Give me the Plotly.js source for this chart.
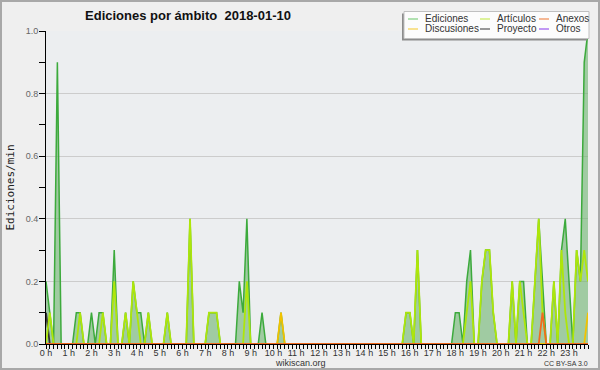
<!DOCTYPE html>
<html><head><meta charset="utf-8">
<script src="https://cdn.plot.ly/plotly-3.0.1.min.js"></script>
<style>html,body{margin:0;padding:0;background:#efefef}#c{width:600px;height:370px}</style>
</head><body><div id="c"></div><script>
// x: 10-minute slots of 2018-01-10 (index 0 = 00:00, 143 = 23:50)
const hourLabels = ['0 h','1 h','2 h','3 h','4 h','5 h','6 h','7 h','8 h','9 h','10 h','11 h',
  '12 h','13 h','14 h','15 h','16 h','17 h','18 h','19 h','20 h','21 h','22 h','23 h'];
const slotMinutes = Array.from({length:144},(_,i)=>i*10);

// edits per minute, one row = 2 hours (12 slots of 10 min)
const ediciones = [
 0.2,0.1,0,0.9,0,0, 0,0,0.1,0.1,0,0,
 0.1,0,0.1,0.1,0,0, 0.3,0,0,0.1,0,0.2,
 0.1,0.1,0,0.1,0,0, 0,0,0.1,0,0,0,
 0,0,0.4,0,0,0, 0,0.1,0.1,0.1,0,0,
 0,0,0,0.2,0.1,0.4, 0,0,0,0.1,0,0,
 0,0,0.1,0,0,0, 0,0,0,0,0,0,
 0,0,0,0,0,0, 0,0,0,0,0,0,
 0,0,0,0,0,0, 0,0,0,0,0,0.1,
 0.1,0,0.3,0,0,0, 0,0,0,0,0,0,
 0.1,0.1,0,0.2,0.3,0, 0,0.2,0.3,0.3,0.1,0,
 0,0,0,0.2,0,0.2, 0.2,0,0,0.2,0.4,0.2,
 0,0,0.2,0,0.3,0.4, 0.2,0,0.3,0.2,0.9,1.0];
const articulos = [
 0,0.1,0,0,0,0, 0,0,0,0.1,0,0,
 0,0,0,0.1,0,0, 0.2,0,0,0.1,0,0.2,
 0.1,0,0,0.1,0,0, 0,0,0.1,0,0,0,
 0,0,0.4,0,0,0, 0,0.1,0.1,0.1,0,0,
 0,0,0,0,0,0.2, 0,0,0,0,0,0,
 0,0,0,0,0,0, 0,0,0,0,0,0,
 0,0,0,0,0,0, 0,0,0,0,0,0,
 0,0,0,0,0,0, 0,0,0,0,0,0.1,
 0.1,0,0.3,0,0,0, 0,0,0,0,0,0,
 0,0,0,0.1,0.2,0, 0,0.2,0.3,0.3,0.1,0,
 0,0,0,0.2,0,0.2, 0.1,0,0,0.2,0.4,0.1,
 0,0,0.2,0,0.3,0.1, 0,0,0.3,0.2,0.3,0.2];
const anexos = [
 0,0,0,0,0,0, 0,0,0,0,0,0,
 0,0,0,0,0,0, 0,0,0,0,0,0,
 0,0,0,0,0,0, 0,0,0,0,0,0,
 0,0,0,0,0,0, 0,0,0,0,0,0,
 0,0,0,0,0,0, 0,0,0,0,0,0,
 0,0,0,0,0,0, 0,0,0,0,0,0,
 0,0,0,0,0,0, 0,0,0,0,0,0,
 0,0,0,0,0,0, 0,0,0,0,0,0,
 0,0,0,0,0,0, 0,0,0,0,0,0,
 0,0,0,0,0,0, 0,0,0,0,0,0,
 0,0,0,0,0,0, 0,0,0,0,0,0.1,
 0,0,0,0,0,0, 0,0,0,0,0,0];
const discusiones = [
 0,0,0,0,0,0, 0,0,0,0,0,0,
 0,0,0,0,0,0, 0,0,0,0,0,0,
 0,0,0,0,0,0, 0,0,0,0,0,0,
 0,0,0,0,0,0, 0,0,0,0,0,0,
 0,0,0,0,0,0, 0,0,0,0,0,0,
 0,0,0.1,0,0,0, 0,0,0,0,0,0,
 0,0,0,0,0,0, 0,0,0,0,0,0,
 0,0,0,0,0,0, 0,0,0,0,0,0,
 0,0,0,0,0,0, 0,0,0,0,0,0,
 0,0,0,0,0,0, 0,0,0,0,0,0,
 0,0,0,0,0,0, 0,0,0,0,0,0,
 0,0,0,0,0,0, 0,0,0,0,0,0.1];
const proyecto = [
 0.1,0,0,0,0,0, 0,0,0,0,0,0,
 0,0,0,0,0,0, 0,0,0,0,0,0,
 0,0,0,0,0,0, 0,0,0,0,0,0,
 0,0,0,0,0,0, 0,0,0,0,0,0,
 0,0,0,0,0,0, 0,0,0,0,0,0,
 0,0,0,0,0,0, 0,0,0,0,0,0,
 0,0,0,0,0,0, 0,0,0,0,0,0,
 0,0,0,0,0,0, 0,0,0,0,0,0,
 0,0,0,0,0,0, 0,0,0,0,0,0,
 0,0,0,0,0,0, 0,0,0,0,0,0,
 0,0,0,0,0,0, 0,0,0,0,0,0,
 0,0,0,0,0,0, 0,0,0,0,0,0];
const otros = [
 0,0,0,0,0,0, 0,0,0,0,0,0,
 0,0,0,0,0,0, 0,0,0,0,0,0,
 0,0,0,0,0,0, 0,0,0,0,0,0,
 0,0,0,0,0,0, 0,0,0,0,0,0,
 0,0,0,0,0,0, 0,0,0,0,0,0,
 0,0,0,0,0,0, 0,0,0,0,0,0,
 0,0,0,0,0,0, 0,0,0,0,0,0,
 0,0,0,0,0,0, 0,0,0,0,0,0,
 0,0,0,0,0,0, 0,0,0,0,0,0,
 0,0,0,0,0,0, 0,0,0,0,0,0,
 0,0,0,0,0,0, 0,0,0,0,0,0,
 0,0,0,0,0,0, 0,0,0,0,0,0];

const seriesNames  = ['Ediciones','Artículos','Anexos','Discusiones','Proyecto','Otros'];
const seriesColors = ['#3caa3c','#aee60a','#f06a1e','#f2c200','#333333','#8a3ce6'];
const legendColors = ['#7fcf7f','#c8ec5a','#f08a50','#f5d04a','#555555','#9a55ee'];
const seriesData   = [ediciones, articulos, anexos, discusiones, proyecto, otros];
const drawOrder = [0,5,4,1,3,2];

const W=600,H=370,M={l:46,r:12,t:31,b:26};
const PW=W-M.l-M.r, PH=H-M.t-M.b;
const px=x=>(x-M.l)/PW, py=y=>(H-M.b-y)/PH;
const SANS='Liberation Sans, Arial, sans-serif';

const traces = drawOrder.map(k=>{
  const t={x:slotMinutes,y:seriesData[k],type:'scatter',mode:'lines',name:seriesNames[k],
    line:{color:seriesColors[k],width:k===0?1.5:1.8},showlegend:false,hoverinfo:'skip'};
  if(k===0){t.fill='tozeroy';t.fillcolor='rgba(110,180,110,0.6)';}
  return t;
});

const shapes=[
  {type:'rect',xref:'paper',yref:'paper',x0:px(1),x1:px(599),y0:py(369),y1:py(1),line:{color:'#a8a8a8',width:2},layer:'above'},
  {type:'rect',xref:'paper',yref:'paper',x0:px(402),x1:px(587),y0:py(40.5),y1:py(13.5),fillcolor:'#8c8c8c',line:{width:0},layer:'above'},
  {type:'rect',xref:'paper',yref:'paper',x0:px(404),x1:px(589),y0:py(38.5),y1:py(11.5),fillcolor:'#fcfcfc',line:{color:'#c0c0c0',width:1},layer:'above'}
];
const annotations=[];
const colX=[424,496,555], rowY=[19,29];
seriesNames.forEach((n,k)=>{
  const c=k%3, r=Math.floor(k/3);
  shapes.push({type:'line',xref:'paper',yref:'paper',x0:px(colX[c]-16),x1:px(colX[c]-6),y0:py(rowY[r]),y1:py(rowY[r]),line:{color:legendColors[k],width:1.2},layer:'above'});
  annotations.push({xref:'paper',yref:'paper',x:px(colX[c]),y:py(rowY[r]),text:n,showarrow:false,xanchor:'left',yanchor:'middle',borderpad:0,font:{family:SANS,size:10,color:'#333'}});
});
annotations.push({xref:'paper',yref:'paper',x:px(300),y:py(363),text:'wikiscan.org',showarrow:false,xanchor:'center',yanchor:'middle',borderpad:0,font:{family:SANS,size:9,color:'#333'}});
annotations.push({xref:'paper',yref:'paper',x:px(589),y:py(363),text:'CC BY-SA 3.0',showarrow:false,xanchor:'right',yanchor:'middle',borderpad:0,font:{family:SANS,size:7,color:'#333'}});

const layout={
  width:W,height:H,margin:M,paper_bgcolor:'#efefef',plot_bgcolor:'#eceef0',
  font:{family:SANS,color:'#333'},
  title:{text:'Ediciones por ámbito\u00a0\u00a02018-01-10',font:{family:SANS,size:13,weight:'bold',color:'#111'},
    xref:'container',yref:'container',x:188/600,y:1-15/370,xanchor:'center',yanchor:'middle'},
  xaxis:{range:[0,1430],tickmode:'array',tickvals:hourLabels.map((_,h)=>h*60),ticktext:hourLabels,
    ticks:'outside',ticklen:4,tickcolor:'#000',tickwidth:1,showline:true,linecolor:'#000',linewidth:1,
    showgrid:false,zeroline:false,tickfont:{family:SANS,size:9,color:'#333'},ticklabelstandoff:-4,
    minor:{tickmode:'linear',tick0:0,dtick:10,ticks:'outside',ticklen:4,tickcolor:'#000',showgrid:false}},
  yaxis:{range:[0,1],tickmode:'array',tickvals:[0,0.2,0.4,0.6,0.8,1.0],tickformat:'.1f',
    ticks:'outside',ticklen:6,tickcolor:'#000',showline:true,linecolor:'#000',linewidth:1,
    showgrid:true,gridcolor:'#cccccc',gridwidth:1,zeroline:false,tickfont:{family:SANS,size:9,color:'#666'},ticklabelstandoff:-1,
    minor:{tickmode:'linear',tick0:0,dtick:0.1,ticks:'outside',ticklen:6,tickcolor:'#000',showgrid:false},
    title:{text:'Ediciones/min',font:{family:'DejaVu Sans Mono',size:11,color:'#222'},standoff:8}},
  shapes:shapes,annotations:annotations,showlegend:false
};
Plotly.newPlot('c',traces,layout,{staticPlot:true});
</script></body></html>
